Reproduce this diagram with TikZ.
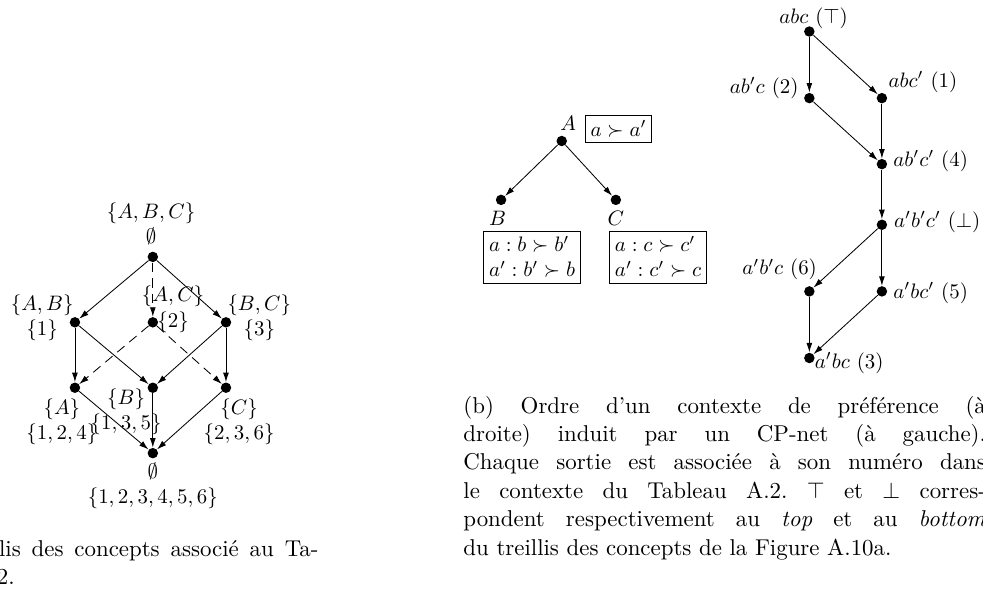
\documentclass[tikz,border=0pt]{standalone}
\usepackage{amsmath,amssymb}
\usetikzlibrary{arrows.meta}

\tikzset{
  vtx/.style={circle,fill,inner sep=0pt,minimum size=5pt},
  arr/.style={-{Latex[length=4.5pt,width=2.8pt]}},
  darr/.style={arr,dash pattern=on 4.5pt off 3pt},
  lbl/.style={align=center,inner sep=0pt},
  cpt/.style={draw,align=left,inner sep=2.5pt},
  capt/.style={align=justify,inner sep=0pt,font=\fontsize{10.95}{13.6}\selectfont\frenchspacing},
}

\begin{document}
\begin{tikzpicture}
  \useasboundingbox (0,0) rectangle (16.53,-9.956);
  \clip (0,0) rectangle (16.53,-9.956);

  % (a) concept lattice
  \begin{scope}[shift={(2.57,-4.32)}]
    \node[vtx,label={[lbl,shift={(-0.03,0.56)}]center:$\{A,B,C\}$\\$\emptyset$}] (l-top) at (0,0) {};
    \node[vtx,label={[lbl,shift={(-0.55,0.08)}]center:$\{A,B\}$\\$\{1\}$}] (l-AB) at (-1.31,-1.1) {};
    \node[vtx,label={[lbl,shift={(0.34,0.22)}]center:$\{A,C\}$\\$\{2\}$}] (l-AC) at (0,-1.1) {};
    \node[vtx,label={[lbl,shift={(0.56,0.08)}]center:$\{B,C\}$\\$\{3\}$}] (l-BC) at (1.23,-1.1) {};
    \node[vtx,label={[lbl,shift={(-0.22,-0.57)}]center:$\{A\}$\\$\{1,2,4\}$}] (l-A) at (-1.31,-2.2) {};
    \node[vtx,label={[lbl,shift={(-0.45,-0.40)}]center:$\{B\}$\\$\{1,3,5\}$}] (l-B) at (0,-2.2) {};
    \node[vtx,label={[lbl,shift={(0.22,-0.58)}]center:$\{C\}$\\$\{2,3,6\}$}] (l-C) at (1.23,-2.2) {};
    \node[vtx,label={[lbl,shift={(0,-0.55)}]center:$\emptyset$\\$\{1,2,3,4,5,6\}$}] (l-bot) at (0,-3.3) {};

    \draw[arr] (l-top) -- (l-AB);
    \draw[darr] (l-top) -- (l-AC);
    \draw[arr] (l-top) -- (l-BC);
    \draw[arr] (l-AB) -- (l-A);
    \draw[arr] (l-AB) -- (l-B);
    \draw[darr] (l-AC) -- (l-A);
    \draw[darr] (l-AC) -- (l-C);
    \draw[arr] (l-BC) -- (l-B);
    \draw[arr] (l-BC) -- (l-C);
    \draw[arr] (l-A) -- (l-bot);
    \draw[arr] (l-B) -- (l-bot);
    \draw[arr] (l-C) -- (l-bot);
  \end{scope}

  \node[capt,text width=194.3pt,anchor=north west] (capA) at (-1.48,-9.06)
    {(a) Treillis des concepts associé au Ta-\linebreak bleau A.2.};

  % (b) CP-net
  \begin{scope}[shift={(9.446,-2.371)}]
    \node[vtx,label={[lbl,shift={(0.11,0.30)}]center:$A$}] (netA) at (0,0) {};
    \node[vtx,label={[lbl,shift={(-0.06,-0.31)}]center:$B$}] (netB) at (-1.02,-0.99) {};
    \node[vtx,label={[lbl,shift={(0,-0.31)}]center:$C$}] (netC) at (0.91,-0.99) {};
    \node[cpt] (cptA) at (0.955,0.2) {$a \succ a'$};
    \node[cpt] (cptB) at (-0.50,-1.95) {$a : b \succ b'$\\$a' : b' \succ b$};
    \node[cpt] (cptC) at (1.62,-1.95) {$a : c \succ c'$\\$a' : c' \succ c$};

    \draw[arr] (netA) -- (netB);
    \draw[arr] (netA) -- (netC);
  \end{scope}

  % (b) induced order
  \begin{scope}[shift={(13.61,-0.53)}]
    \node[vtx,label={[lbl,shift={(0.07,0.22)}]center:$abc$ ($\top$)}] (abc) at (0,0) {};
    \node[vtx,label={[lbl,shift={(-0.76,0.17)}]center:$ab'c$ (2)}] (abpc) at (0,-1.12) {};
    \node[vtx,label={[lbl,shift={(0.69,0.27)}]center:$abc'$ (1)}] (abcp) at (1.22,-1.12) {};
    \node[vtx,label={[lbl,shift={(0.82,0.05)}]center:$ab'c'$ (4)}] (abpcp) at (1.22,-2.23) {};
    \node[vtx,label={[lbl,shift={(0.93,0.05)}]center:$a'b'c'$ ($\bot$)}] (apbpcp) at (1.22,-3.25) {};
    \node[vtx,label={[lbl,shift={(-0.5,0.37)}]center:$a'b'c$ (6)}] (apbpc) at (0,-4.37) {};
    \node[vtx,label={[lbl,shift={(0.82,-0.03)}]center:$a'bc'$ (5)}] (apbcp) at (1.22,-4.37) {};
    \node[vtx,label={[lbl,shift={(0.67,-0.08)}]center:$a'bc$ (3)}] (apbc) at (0,-5.49) {};

    \draw[arr] (abc) -- (abpc);
    \draw[arr] (abc) -- (abcp);
    \draw[arr] (abpc) -- (abpcp);
    \draw[arr] (abcp) -- (abpcp);
    \draw[arr] (abpcp) -- (apbpcp);
    \draw[arr] (apbpcp) -- (apbpc);
    \draw[arr] (apbpcp) -- (apbcp);
    \draw[arr] (apbpc) -- (apbc);
    \draw[arr] (apbcp) -- (apbc);
  \end{scope}

  \node[capt,text width=250pt,anchor=north west] (capB) at (7.786,-6.65)
    {(b) Ordre d’un contexte de préférence (à\linebreak droite) induit par un CP-net (à gauche).\linebreak Chaque sortie est associée à son numéro dans\linebreak le contexte du Tableau A.2. $\top$ et $\bot$ corres-\linebreak pondent respectivement au \emph{top} et au \emph{bottom}\linebreak du treillis des concepts de la Figure A.10a.};
\end{tikzpicture}
\end{document}
